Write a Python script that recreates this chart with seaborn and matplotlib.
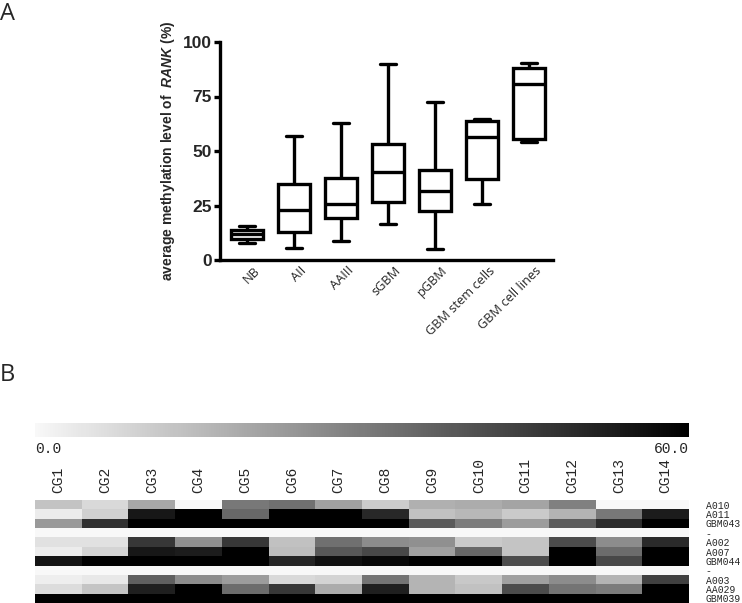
import numpy as np
import pandas as pd
import matplotlib
matplotlib.use("Agg")
import matplotlib.pyplot as plt
import matplotlib.transforms as mtransforms
from matplotlib.colors import LinearSegmentedColormap
import seaborn as sns

sns.set_style("white")
plt.rcParams['font.family'] = ['Liberation Sans', 'DejaVu Sans']
plt.rcParams['mathtext.fontset'] = 'custom'
plt.rcParams['mathtext.rm'] = 'Liberation Sans'
plt.rcParams['mathtext.it'] = 'Liberation Sans:italic'
plt.rcParams['mathtext.bf'] = 'Liberation Sans:bold'
plt.rcParams['mathtext.bfit'] = 'Liberation Sans:italic:bold'

# ---------------- Panel A data (min, Q1, median, Q3, max) ----------------
groups = ["NB", "AII", "AAIII", "sGBM", "pGBM", "GBM stem cells", "GBM cell lines"]
nb = [7.9, 9.6, 11.8, 13.8, 15.6]
aii = [5.6, 12.7, 22.9, 34.7, 56.8]
aaiii = [8.9, 19.4, 25.7, 37.4, 62.9]
sgbm = [16.5, 26.4, 40.5, 53.0, 90.1]
pgbm = [4.9, 22.4, 31.8, 41.5, 72.5]
gbm_stem = [25.8, 37.1, 56.5, 63.7, 64.7]
gbm_lines = [54.2, 55.3, 80.6, 88.1, 90.4]
yticks = [0, 25, 50, 75, 100]

# ---------------- Panel B data ----------------
cg_labels = ["CG1", "CG2", "CG3", "CG4", "CG5", "CG6", "CG7", "CG8", "CG9",
             "CG10", "CG11", "CG12", "CG13", "CG14"]
row_labels = ["A010", "A011", "GBM043", "-", "A002", "A007", "GBM044", "-",
              "A003", "AA029", "GBM039"]
a010 = [12.8, 7.7, 19.4, 0.0, 31.0, 32.9, 21.3, 10.6, 17.4, 18.4, 20.3, 29.0, 0.0, 0.0]
a011 = [2.9, 9.7, 54.2, 60.0, 34.8, 60.0, 60.0, 50.3, 13.5, 15.5, 11.1, 16.5, 31.0, 53.2]
gbm043 = [23.2, 48.4, 60.0, 60.0, 60.0, 60.0, 60.0, 60.0, 38.2, 30.0, 22.3, 37.7, 49.4, 60.0]
sep1 = [0.0] * 14
a002 = [5.8, 5.8, 46.5, 25.2, 46.5, 13.5, 32.9, 26.1, 25.2, 11.1, 12.6, 41.6, 26.1, 49.8]
a007 = [2.9, 8.7, 54.2, 53.2, 60.0, 14.5, 38.7, 42.6, 21.3, 34.8, 12.6, 60.0, 33.9, 60.0]
gbm044 = [55.2, 60.0, 60.0, 60.0, 60.0, 51.3, 56.1, 58.1, 60.0, 60.0, 41.6, 60.0, 42.6, 60.0]
sep2 = [0.0] * 14
a003 = [2.4, 3.9, 36.8, 26.1, 22.3, 7.7, 8.7, 31.9, 16.5, 11.6, 21.3, 26.1, 16.5, 44.5]
aa029 = [6.8, 12.6, 52.3, 60.0, 33.9, 46.5, 18.4, 52.3, 16.5, 13.5, 41.6, 31.9, 30.0, 60.0]
gbm039 = [60.0] * 14

W, H = 742, 603
fig = plt.figure(figsize=(W / 100, H / 100), dpi=100)

# ---------------- Panel A ----------------
ax = fig.add_axes([220 / W, 1 - 260 / H, 333 / W, 218 / H])
box_values = [nb, aii, aaiii, sgbm, pgbm, gbm_stem, gbm_lines]
df = pd.DataFrame({
    "group": np.repeat(groups, [len(v) for v in box_values]),
    "value": np.concatenate(box_values),
})
sns.boxplot(data=df, x="group", y="value", order=groups, ax=ax, whis=(0, 100),
            width=0.7, color="white", linecolor="black", linewidth=2.4,
            fliersize=0)
ax.set_xlim(-0.574, 6.51)
ax.set_ylim(0, 100)
ax.set_yticks(yticks)
ax.set_yticklabels([str(t) for t in yticks], fontsize=12.5, fontweight="bold")
for s in ["top", "right"]:
    ax.spines[s].set_visible(False)
for s in ["left", "bottom"]:
    ax.spines[s].set_linewidth(2.4)
    ax.spines[s].set_color("black")
ax.tick_params(axis="y", which="major", left=True, length=4.5, width=2.4, pad=1.5,
               color="black")
ax.tick_params(axis="x", length=0, pad=3)
ax.set_xlabel("")
ax.set_ylabel(r"average methylation level of  $\mathbfit{RANK}$ (%)", fontsize=10,
              fontweight="bold")
ax.yaxis.set_label_coords(-0.128, 0.5)
offset = mtransforms.ScaledTranslation(6 / 100, 0, fig.dpi_scale_trans)
for lbl in ax.get_xticklabels():
    lbl.set_rotation(45)
    lbl.set_ha("right")
    lbl.set_va("top")
    lbl.set_rotation_mode("anchor")
    lbl.set_fontfamily(["Open Sans", "DejaVu Sans"])
    lbl.set_fontsize(9.2)
    lbl.set_transform(lbl.get_transform() + offset)

fig.text(0 / W, 1 - 2 / H, "A", fontsize=17, va="top", ha="left",
         family=["Open Sans", "DejaVu Sans"])
fig.text(0 / W, 1 - 363 / H, "B", fontsize=17, va="top", ha="left",
         family=["Open Sans", "DejaVu Sans"])

# ---------------- Panel B ----------------
mat = pd.DataFrame([a010, a011, gbm043, sep1, a002, a007, gbm044, sep2,
                    a003, aa029, gbm039], index=row_labels, columns=cg_labels)
cmap = LinearSegmentedColormap.from_list("gray_meth", ["#f8f8f8", "#000000"])
hax = fig.add_axes([35 / W, 0, 654 / W, 103 / H])
cax = fig.add_axes([35 / W, 1 - 437 / H, 654 / W, 14 / H])
sns.heatmap(mat, ax=hax, cmap=cmap, vmin=0, vmax=60, cbar_ax=cax,
            cbar_kws={"orientation": "horizontal"}, xticklabels=True,
            yticklabels=True)
hax.xaxis.tick_top()
hax.yaxis.tick_right()
hax.tick_params(axis="x", length=0, pad=5)
hax.tick_params(axis="y", length=0, pad=12)
mono = ["Liberation Mono", "DejaVu Sans Mono"]
for lbl in hax.get_xticklabels():
    lbl.set_rotation(90)
    lbl.set_fontfamily(mono)
    lbl.set_fontsize(10.5)
for lbl in hax.get_yticklabels():
    lbl.set_rotation(0)
    lbl.set_ha("left")
    lbl.set_fontfamily(mono)
    lbl.set_fontsize(7.0)
hax.set_xlabel("")
hax.set_ylabel("")

cax.set_xticks([])
cax.set_yticks([])
for s in cax.spines.values():
    s.set_visible(False)
cax.text(0, -0.35, "0.0", transform=cax.transAxes, ha="left", va="top",
         family=mono, fontsize=10.5)
cax.text(1, -0.35, "60.0", transform=cax.transAxes, ha="right", va="top",
         family=mono, fontsize=10.5)

fig.savefig("out.png", dpi=100)
